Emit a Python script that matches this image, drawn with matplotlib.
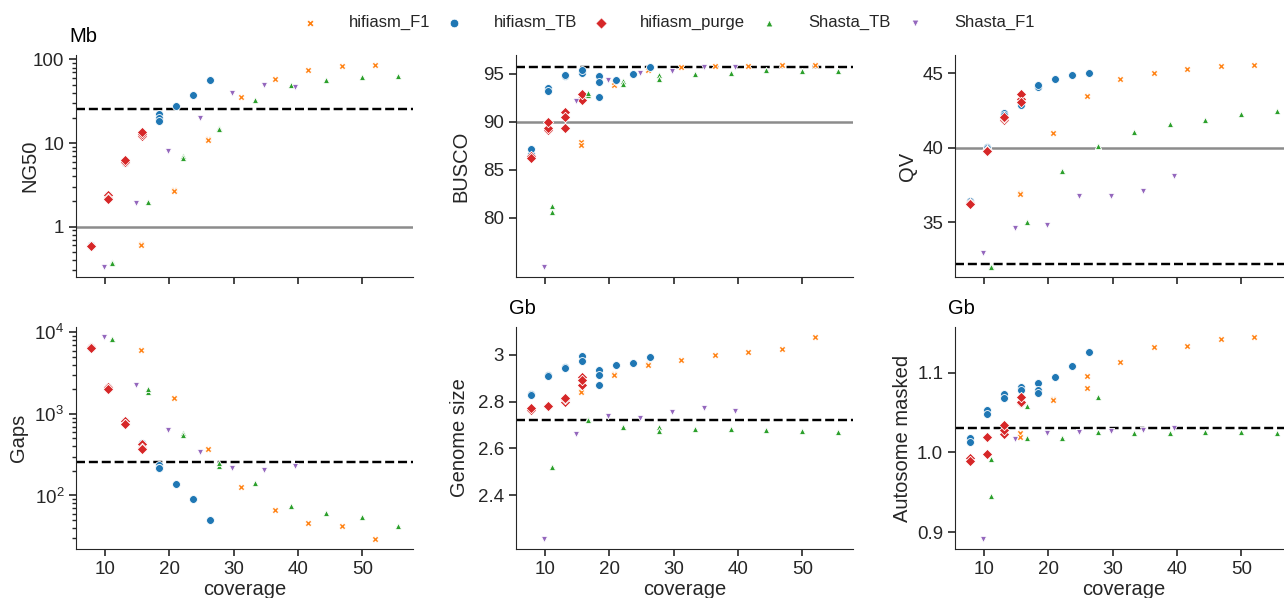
import matplotlib
matplotlib.use("Agg")
import matplotlib.pyplot as plt
import seaborn as sns

sns.set_style("ticks")
plt.rcParams["font.family"] = ["Liberation Sans", "DejaVu Sans"]

assemblers = ["hifiasm_F1", "hifiasm_TB", "hifiasm_purge", "Shasta_TB", "Shasta_F1"]
colors = {"hifiasm_F1": "#ff7f0e", "hifiasm_TB": "#1f77b4", "hifiasm_purge": "#d62728",
          "Shasta_TB": "#2ca02c", "Shasta_F1": "#9467bd"}
markers = {"hifiasm_F1": "X", "hifiasm_TB": "o", "hifiasm_purge": "D",
           "Shasta_TB": "^", "Shasta_F1": "v"}
sizes = {"hifiasm_F1": 22, "hifiasm_TB": 32, "hifiasm_purge": 28,
         "Shasta_TB": 20, "Shasta_F1": 20}

# coverage of every assembly (replicates repeat the coverage)
coverage = {
    "hifiasm_F1": [15.6, 15.6, 20.8, 20.8, 26.0, 26.0, 31.2, 36.4, 41.6, 46.8, 52.0],
    "hifiasm_TB": [7.9, 7.9, 10.5, 10.5, 13.2, 13.2, 15.8, 15.8, 18.4, 18.4, 18.4, 21.1, 23.7, 26.3],
    "hifiasm_purge": [7.9, 7.9, 10.5, 10.5, 10.5, 13.2, 13.2, 13.2, 15.8, 15.8, 15.8],
    "Shasta_TB": [11.1, 11.1, 16.7, 16.7, 22.2, 22.2, 27.8, 27.8, 33.3, 38.9, 44.4, 50.0, 55.5],
    "Shasta_F1": [9.9, 14.9, 19.8, 24.8, 29.7, 34.7, 39.6],
}

ng50 = {
    "hifiasm_F1": [0.62, 0.61, 2.75, 2.7, 11.3, 11.0, 36, 58.6, 74.5, 84, 85.5],
    "hifiasm_TB": [0.60, 0.58, 2.4, 2.3, 5.7, 5.9, 12.4, 12.8, 22, 20, 18.2, 27.5, 37.7, 56.5],
    "hifiasm_purge": [0.58, 0.59, 2.4, 2.2, 2.13, 5.9, 6.0, 6.2, 12.2, 12.8, 13.5],
    "Shasta_TB": [0.38, 0.37, 1.98, 1.95, 7.0, 6.6, 15, 14.8, 32.5, 48.8, 56, 60.8, 62.5],
    "Shasta_F1": [0.33, 1.92, 8.1, 20, 39.8, 49.7, 47],
}

busco = {
    "hifiasm_F1": [87.9, 87.6, 93.84, 94.1, 95.42, 95.4, 95.73, 95.83, 95.83, 95.9, 95.9],
    "hifiasm_TB": [86.7, 87.19, 93.5, 93.2, 94.8, 94.82, 95.03, 95.42, 94.76, 94.1, 92.57, 94.34, 95.0, 95.7],
    "hifiasm_purge": [86.4, 86.2, 89.1, 89.4, 90.03, 90.97, 89.38, 90.45, 92.5, 92.26, 92.9],
    "Shasta_TB": [81.2, 80.6, 92.8, 93.0, 94.27, 93.9, 94.9, 94.45, 95.0, 95.03, 95.38, 95.24, 95.24],
    "Shasta_F1": [74.9, 92.15, 94.34, 95.03, 95.3, 95.66, 95.66],
}

qv = {
    "hifiasm_F1": [36.96, 36.9, 41.02, 41.0, 43.49, 43.45, 44.62, 45.04, 45.31, 45.47, 45.56],
    "hifiasm_TB": [36.44, 36.3, 40.07, 40.0, 42.33, 42.2, 42.87, 43.2, 44.16, 44.1, 44.2, 44.62, 44.89, 45.04],
    "hifiasm_purge": [36.3, 36.22, 39.85, 39.8, 39.76, 41.9, 42.0, 42.07, 43.3, 43.62, 43.1],
    "Shasta_TB": [32.04, 32.0, 35.04, 35.0, 38.47, 38.45, 40.13, 40.1, 41.07, 41.6, 41.89, 42.27, 42.49],
    "Shasta_F1": [32.96, 34.62, 34.8, 36.78, 36.78, 37.07, 38.11],
}

gaps = {
    "hifiasm_F1": [6150, 6100, 1566, 1550, 374, 370, 126, 65.6, 46.5, 42.3, 29.3],
    "hifiasm_TB": [6600, 6500, 2170, 2100, 815, 790, 435, 420, 239, 217, 220, 140, 90, 50],
    "hifiasm_purge": [6560, 6500, 2170, 2050, 2000, 815, 760, 748, 430, 380, 367],
    "Shasta_TB": [8300, 8250, 1850, 2000, 587, 550, 230, 250, 144, 74.8, 61.5, 54.5, 41.9],
    "Shasta_F1": [8770, 2240, 632, 341, 219, 207, 230],
}

genome_size = {
    "hifiasm_F1": [2.844, 2.84, 2.917, 2.915, 2.959, 2.957, 2.977, 3.0, 3.014, 3.026, 3.076],
    "hifiasm_TB": [2.834, 2.83, 2.914, 2.91, 2.946, 2.944, 2.994, 2.973, 2.936, 2.916, 2.871, 2.956, 2.966, 2.99],
    "hifiasm_purge": [2.764, 2.773, 2.783, 2.781, 2.783, 2.797, 2.812, 2.814, 2.904, 2.871, 2.891],
    "Shasta_TB": [2.519, 2.52, 2.724, 2.722, 2.69, 2.69, 2.69, 2.676, 2.683, 2.681, 2.679, 2.674, 2.67],
    "Shasta_F1": [2.213, 2.663, 2.739, 2.729, 2.756, 2.773, 2.761],
}

autosome = {
    "hifiasm_F1": [1.0247, 1.0197, 1.067, 1.0653, 1.0962, 1.0812, 1.113, 1.1314, 1.133, 1.1418, 1.1444],
    "hifiasm_TB": [1.0176, 1.013, 1.0531, 1.0481, 1.0732, 1.068, 1.0824, 1.078, 1.0866, 1.078, 1.0749, 1.0941, 1.108, 1.126],
    "hifiasm_purge": [0.9925, 0.9895, 1.019, 1.0197, 0.9983, 1.023, 1.028, 1.0343, 1.062, 1.063, 1.069],
    "Shasta_TB": [0.992, 0.9456, 1.0577, 1.0176, 1.018, 1.018, 1.0699, 1.026, 1.0238, 1.0247, 1.026, 1.0255, 1.0247],
    "Shasta_F1": [0.8916, 1.0172, 1.0247, 1.025, 1.0272, 1.0276, 1.0305],
}

# reference lines (dashed = reference assembly, grey = threshold)
ref_ng50, thr_ng50 = 25.6, 1
ref_busco, thr_busco = 95.7, 90
ref_qv, thr_qv = 32.2, 40
ref_gaps = 260
ref_size = 2.72
ref_autosome = 1.03

fig = plt.figure(figsize=(12.84, 5.98), dpi=100)

W, H = 1284, 598
def axes_px(left, top, width=337, height=222):
    return fig.add_axes([left / W, 1 - (top + height) / H, width / W, height / H])

panels = [
    # data, ylabel, unit, log, dashed, grey, yticks, yticklabels, left, top, label x
    (ng50, "NG50", "Mb", True, ref_ng50, thr_ng50, [1, 10, 100], ["1", "10", "100"], 76, 55, -0.110),
    (busco, "BUSCO", None, False, ref_busco, thr_busco, [80, 85, 90, 95], None, 516, 55, -0.136),
    (qv, "QV", None, False, ref_qv, thr_qv, [35, 40, 45], None, 955, 55, -0.114),
    (gaps, "Gaps", None, True, ref_gaps, None, None, None, 76, 327, -0.141),
    (genome_size, "Genome size", "Gb", False, ref_size, None, [2.4, 2.6, 2.8, 3.0],
     ["2.4", "2.6", "2.8", "3"], 516, 327, -0.138),
    (autosome, "Autosome masked", "Gb", False, ref_autosome, None, [0.9, 1.0, 1.1],
     ["0.9", "1.0", "1.1"], 955, 327, -0.128),
]

for i, (data, ylabel, unit, log, dashed, grey, yt, ytl, left, top, lx) in enumerate(panels):
    ax = axes_px(left, top)
    if log:
        ax.set_yscale("log")
    for name in assemblers:
        ax.scatter(coverage[name], data[name], s=sizes[name], marker=markers[name],
                   color=colors[name], edgecolor="white", linewidth=0.6, zorder=3,
                   label=name)
    ax.axhline(dashed, color="black", ls="--", lw=1.75, zorder=2)
    if grey is not None:
        ax.axhline(grey, color="0.55", lw=1.8, zorder=1)
    if yt is not None:
        ax.set_yticks(yt)
        if ytl is not None:
            ax.set_yticklabels(ytl)
    ax.set_xticks([10, 20, 30, 40, 50])
    ax.set_ylabel(ylabel, fontsize=14.5)
    ax.yaxis.set_label_coords(lx, 0.5)
    ax.tick_params(labelsize=13.5, length=5, width=1.2)
    ax.tick_params(which="minor", length=3, width=1)
    if i < 3:
        ax.tick_params(labelbottom=False)
    else:
        ax.set_xlabel("coverage", fontsize=14.5, labelpad=1.5)
    if unit:
        ax.text(-0.02, 1.04, unit, transform=ax.transAxes, fontsize=14.5,
                ha="left", va="bottom", color="black")
    sns.despine(ax=ax)
    if i == 0:
        handles, labels = ax.get_legend_handles_labels()

fig.legend(handles, labels, loc="upper center", bbox_to_anchor=(0.517, 1.0), ncol=5,
           frameon=False, fontsize=12, columnspacing=0.45, handletextpad=1.35,
           markerscale=1.1)

fig.savefig("out.png", dpi=100)
